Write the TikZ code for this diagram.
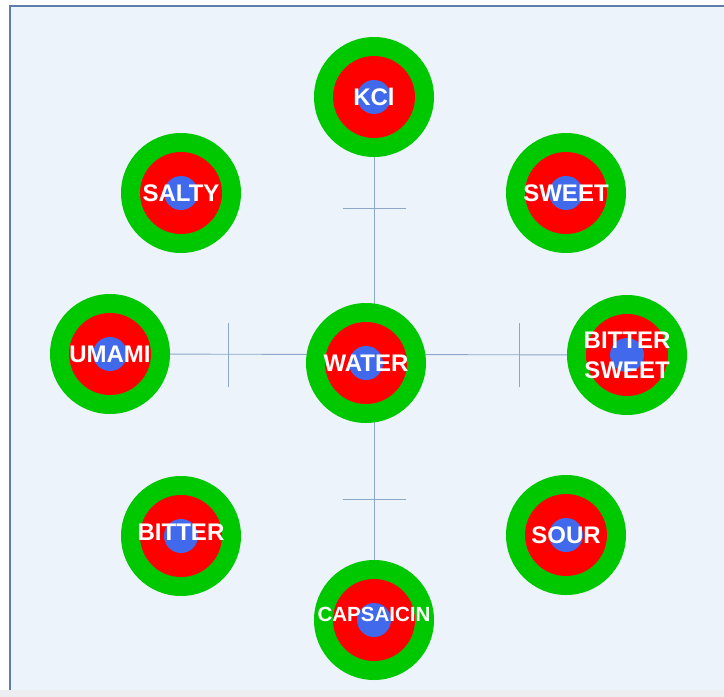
\documentclass[tikz,border=0pt]{standalone}
\usepackage{fontspec}
\setmainfont{Liberation Sans}
\usetikzlibrary{positioning}
\definecolor{ringgreen}{RGB}{0,200,0}
\definecolor{ringred}{RGB}{255,0,0}
\definecolor{coreblue}{RGB}{65,105,235}
\definecolor{panelbg}{RGB}{237,243,250}
\definecolor{panelframe}{RGB}{95,125,170}
\definecolor{axisblue}{RGB}{140,168,200}
\definecolor{footgrey}{RGB}{236,238,241}
\pgfdeclarelayer{background}
\pgfsetlayers{background,main}

\begin{document}
\begin{tikzpicture}[
    x=1pt, y=-1pt,
    font=\fontsize{24}{30}\selectfont\bfseries,
    taste/.style={circle, fill=ringgreen, minimum size=120pt, inner sep=0pt, text=white, align=center,
        path picture={
            \fill[ringred] (path picture bounding box.center) circle (41pt);
            \fill[coreblue] (path picture bounding box.center) circle (17pt);}},
    axisline/.style={axisblue, line width=0.9pt},
    tickmark/.style={axisblue, line width=0.9pt}
]
\useasboundingbox (0,0) rectangle (724,697);

% Centre
\node[taste] (water) at (366,363) {WATER};

% Outer ring of tastes
\node[taste] (kcl) at (374,97) {KCl};
\node[taste] (salty) at (181,193) {SALTY};
\node[taste] (sweet) at (566,193) {SWEET};
\node[taste] (umami) at (110,354) {UMAMI};
\node[taste] (bittersweet) at (627,355) {BITTER\\SWEET};
\node[taste, text depth=7pt] (bitter) at (181,536) {BITTER};
\node[taste] (sour) at (566,535) {SOUR};
\node[taste, font=\fontsize{20.5}{24}\selectfont\bfseries, text depth=12pt] (capsaicin) at (374,620) {CAPSAICIN};

% Tick marks
\coordinate (tickN) at (374,208);
\coordinate (tickS) at (374,499);
\coordinate (tickW) at (228,355);
\coordinate (tickE) at (519,355);

\begin{pgfonlayer}{background}
% Panel
\fill[white] (0,0) rectangle (724,697);
\fill[footgrey] (0,690) rectangle (724,697);
\fill[panelbg] (10,6) rectangle (724,690);
\draw[panelframe, line width=1.2pt] (10,690) -- (10,6) -- (724,6);

% Axes
\draw[axisline] (kcl) -- (capsaicin);
\draw[axisline] (umami) -- (bittersweet);

\draw[tickmark] ([xshift=-31.5pt]tickN) -- ([xshift=31.5pt]tickN);
\draw[tickmark] ([xshift=-31.5pt]tickS) -- ([xshift=31.5pt]tickS);
\draw[tickmark] ([yshift=32pt]tickW) -- ([yshift=-32pt]tickW);
\draw[tickmark] ([yshift=32pt]tickE) -- ([yshift=-32pt]tickE);
\end{pgfonlayer}

\end{tikzpicture}
\end{document}
